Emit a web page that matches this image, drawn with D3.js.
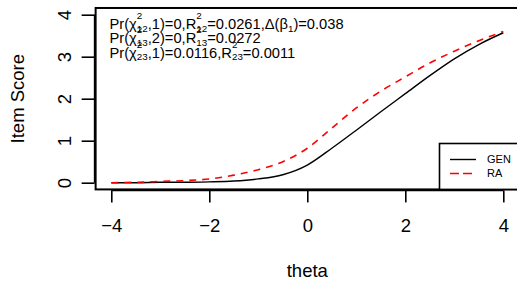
<!DOCTYPE html>
<html>
<head>
<meta charset="utf-8">
<script src="https://cdn.jsdelivr.net/npm/d3@7"></script>
<style>
  body { margin: 0; background: #fff; }
  text { font-family: "Liberation Sans", Arial, sans-serif; fill: #000; }
</style>
</head>
<body>
<div id="chart"></div>
<script>
var theta    = [-4, -3.5, -3, -2.5, -2, -1.5, -1, -0.5, 0, 0.5, 1, 1.5, 2, 2.5, 3, 3.5, 4];
var genScore = [0.0, 0.0, 0.01, 0.01, 0.02, 0.04, 0.09, 0.19, 0.42, 0.82, 1.25, 1.69, 2.12, 2.55, 2.95, 3.29, 3.57];
var raScore  = [0.0, 0.01, 0.03, 0.05, 0.09, 0.18, 0.31, 0.5, 0.82, 1.3, 1.78, 2.18, 2.52, 2.85, 3.13, 3.38, 3.6];
var xTicks = [-4, -2, 0, 2, 4];
var yTicks = [0, 1, 2, 3, 4];
var legendLabels = ["GEN", "RA"];
// each line: plain strings, or {sup, sub} stacked scripts
var noteLines = [
  ["Pr(\u03c7", {sup: "2", sub: "12"}, ",1)=0,R", {sup: "2", sub: "12"}, "=0.0261,\u0394(\u03b2", {sub: "1"}, ")=0.038"],
  ["Pr(\u03c7", {sup: "2", sub: "13"}, ",2)=0,R", {sup: "2", sub: "13"}, "=0.0272"],
  ["Pr(\u03c7", {sup: "2", sub: "23"}, ",1)=0.0116,R", {sup: "2", sub: "23"}, "=0.0011"]
];

var W = 517, H = 285;
var svg = d3.select("#chart").append("svg")
    .attr("width", W)
    .attr("height", H);

// plot region (R style, 4% extension)
var x = d3.scaleLinear().domain([-4, 4]).range([111.3, 503.3]);
var y = d3.scaleLinear().domain([0, 4]).range([182.7, 14.7]);
var boxL = x(-4.32), boxR = x(4.32), boxT = y(4.16), boxB = y(-0.16);

var genData = theta.map((t, i) => ({t: t, v: genScore[i]}));
var raData = theta.map((t, i) => ({t: t, v: raScore[i]}));

var line = d3.line()
    .x(d => x(d.t))
    .y(d => y(d.v))
    .curve(d3.curveMonotoneX);

svg.append("path")
    .datum(genData)
    .attr("d", line)
    .attr("fill", "none")
    .attr("stroke", "#000")
    .attr("stroke-width", 1.4);

svg.append("path")
    .datum(raData)
    .attr("d", line)
    .attr("fill", "none")
    .attr("stroke", "#ff0000")
    .attr("stroke-width", 1.6)
    .attr("stroke-dasharray", "7,6");

// box
svg.append("rect")
    .attr("x", boxL).attr("y", boxT)
    .attr("width", boxR - boxL).attr("height", boxB - boxT)
    .attr("fill", "none")
    .attr("stroke", "#000")
    .attr("stroke-width", 2);

// x axis
var xAxis = svg.append("g")
    .attr("transform", "translate(0," + (boxB + 1) + ")")
    .call(d3.axisBottom(x).tickValues(xTicks).tickSize(12).tickPadding(16)
      .tickFormat(d => d < 0 ? "\u2212" + Math.abs(d) : d));
xAxis.select(".domain")
    .attr("d", "M" + x(-4) + ",0H" + x(4))
    .attr("stroke-width", 1.6);
xAxis.selectAll(".tick line").attr("stroke-width", 1.6);
xAxis.selectAll("text").style("font-size", "18.5px").style("font-family", "Liberation Sans, Arial, sans-serif");

// y axis
var yAxis = svg.append("g")
    .attr("transform", "translate(" + (boxL - 1) + ",0)")
    .call(d3.axisLeft(y).tickValues(yTicks).tickSize(13).tickFormat(d3.format("d")));
yAxis.select(".domain")
    .attr("d", "M0," + y(0) + "V" + y(4))
    .attr("stroke-width", 1.6);
yAxis.selectAll(".tick line").attr("stroke-width", 1.6);
yAxis.selectAll("text")
    .attr("x", null).attr("dy", null)
    .attr("text-anchor", "middle")
    .attr("transform", "translate(-30,0) rotate(-90)")
    .attr("y", 0)
    .attr("dy", "0.35em")
    .style("font-size", "18.5px")
    .style("font-family", "Liberation Sans, Arial, sans-serif");

svg.append("text")
    .attr("x", (x(-4) + x(4)) / 2)
    .attr("y", 277)
    .attr("text-anchor", "middle")
    .style("font-size", "18.5px")
    .text("theta");

svg.append("text")
    .attr("transform", "translate(24," + ((y(0) + y(4)) / 2) + ") rotate(-90)")
    .attr("text-anchor", "middle")
    .style("font-size", "18.5px")
    .text("Item Score");

// annotation
var baseSize = 14.7, smallSize = 9.8;
var noteY = [28.7, 43, 57.5];
noteLines.forEach(function(parts, li) {
  var t = svg.append("text")
      .attr("x", 109.5)
      .attr("y", noteY[li])
      .style("font-size", baseSize + "px");
  var cx = 109.5;
  parts.forEach(function(p) {
    if (typeof p === "string") {
      var s = t.append("tspan").attr("x", cx).attr("y", noteY[li]).text(p);
      cx += s.node().getComputedTextLength();
    } else {
      var w = 0;
      if (p.sup) {
        var a = t.append("tspan").attr("x", cx).attr("y", noteY[li] - 10)
            .style("font-size", smallSize + "px").text(p.sup);
        w = Math.max(w, a.node().getComputedTextLength());
      }
      if (p.sub) {
        var b = t.append("tspan").attr("x", cx).attr("y", noteY[li] + 2.8)
            .style("font-size", smallSize + "px").text(p.sub);
        w = Math.max(w, b.node().getComputedTextLength());
      }
      cx += w;
    }
  });
});

// legend
var legX = 439.5, legY = 143.5;
svg.append("rect")
    .attr("x", legX).attr("y", legY)
    .attr("width", 100).attr("height", boxB - legY)
    .attr("fill", "#fff")
    .attr("stroke", "#000")
    .attr("stroke-width", 1.6);

var legend = svg.selectAll(".leg")
    .data(legendLabels)
    .enter().append("g")
    .attr("class", "leg")
    .attr("transform", (d, i) => "translate(0," + (159.5 + i * 14) + ")");

legend.append("line")
    .attr("x1", 450).attr("x2", 476)
    .attr("stroke", (d, i) => i === 0 ? "#000" : "#ff0000")
    .attr("stroke-width", (d, i) => i === 0 ? 1.4 : 1.6)
    .attr("stroke-dasharray", (d, i) => i === 0 ? null : "9,4");

legend.append("text")
    .attr("x", 487)
    .attr("dy", "0.35em")
    .style("font-size", "11px")
    .text(d => d);
</script>
</body>
</html>
